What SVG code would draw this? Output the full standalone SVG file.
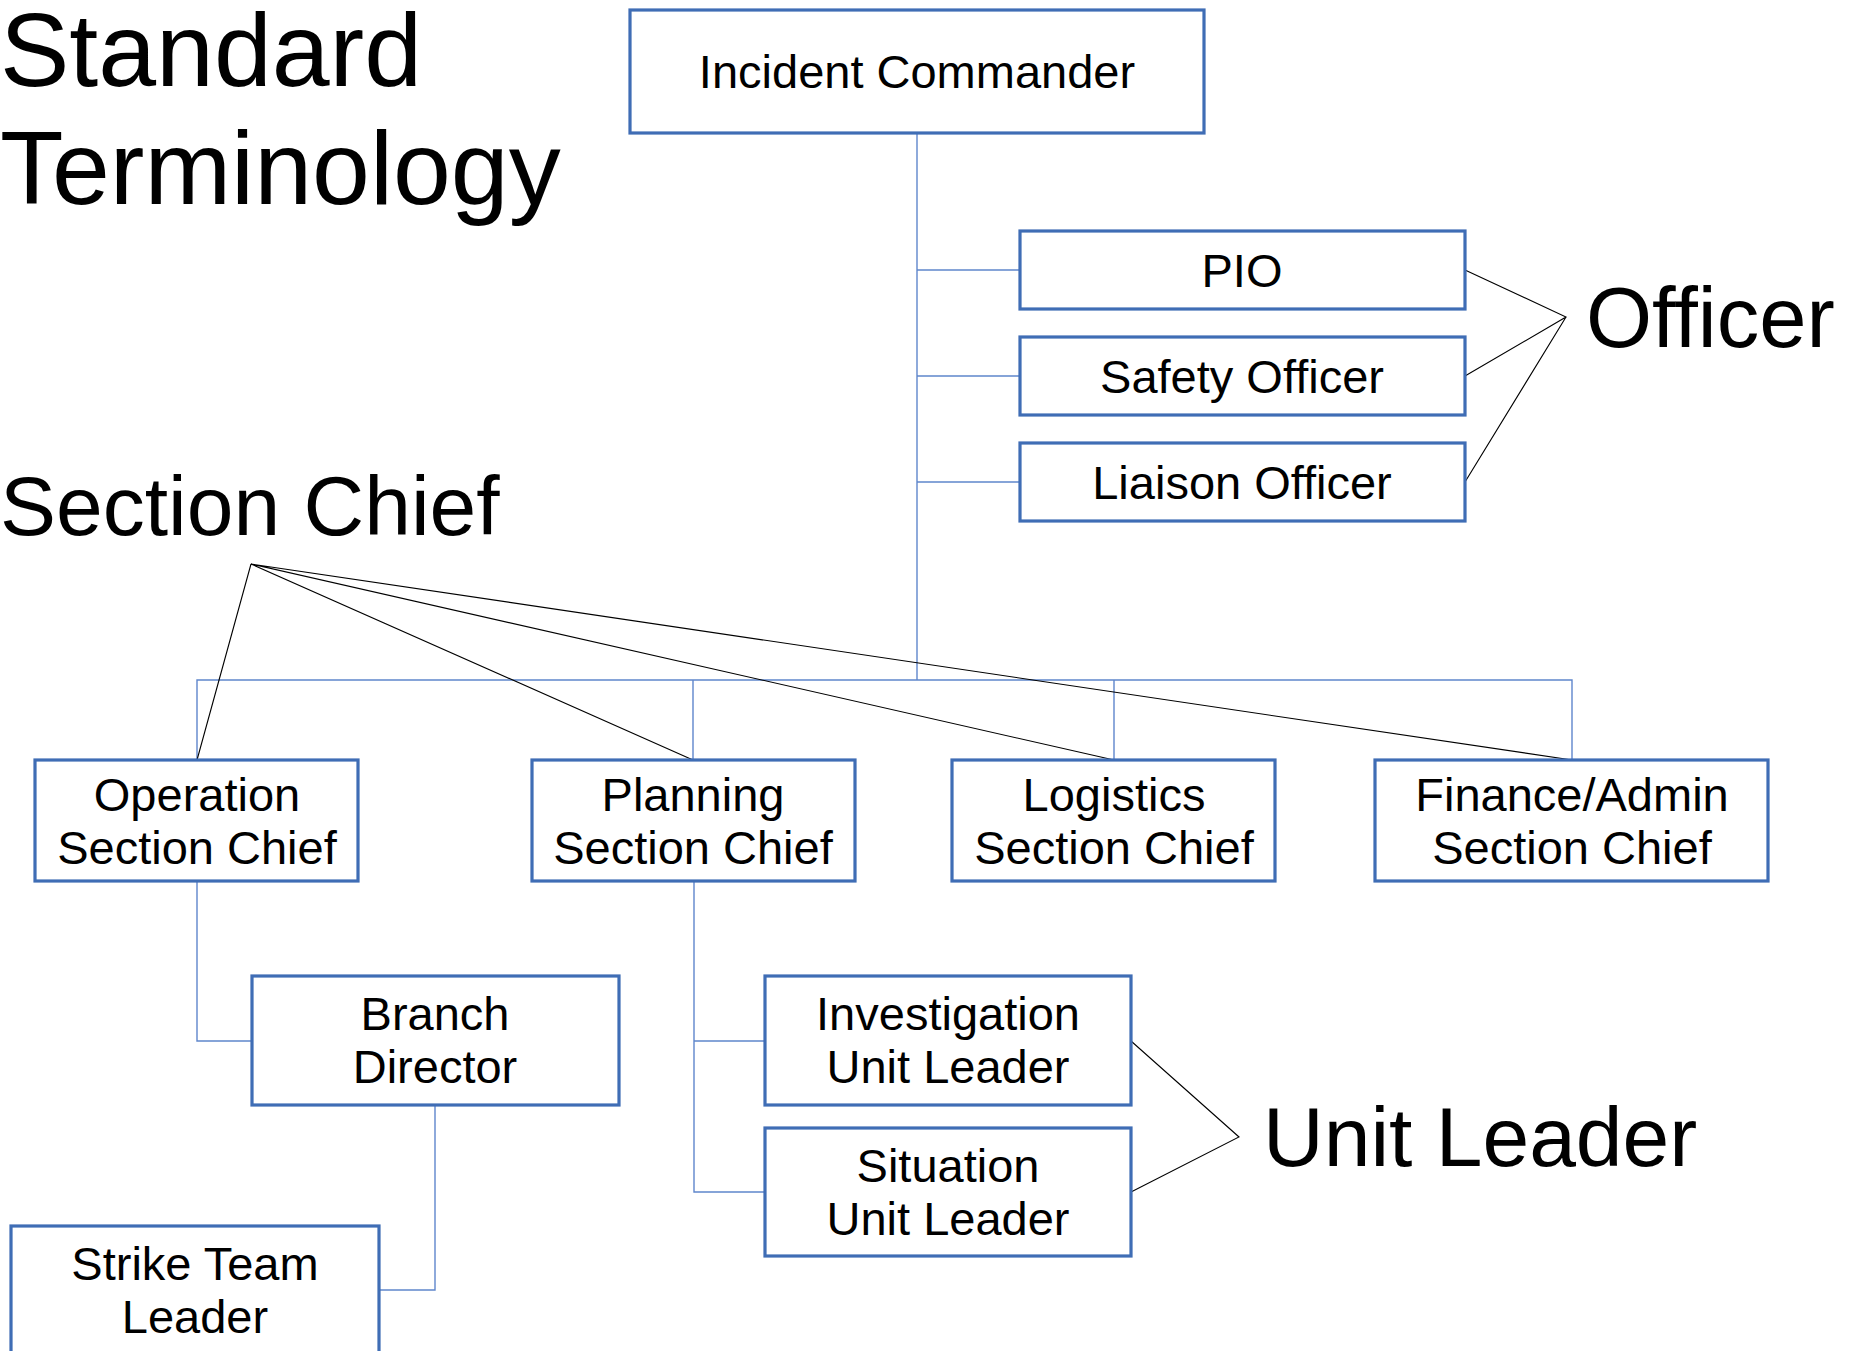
<svg xmlns="http://www.w3.org/2000/svg" width="1857" height="1351" viewBox="0 0 1857 1351">
  <style>
    .box rect { fill: #ffffff; stroke: #3F6DB5; stroke-width: 3.2; }
    .box text { font-family: "Liberation Sans", Arial, sans-serif; font-size: 47px; fill: #000000; text-anchor: middle; }
    .label { font-family: "Liberation Sans", Arial, sans-serif; fill: #000000; }
    .conn { fill: none; stroke: #5F86CC; stroke-width: 1.4; }
    .ptr { fill: none; stroke: #000000; stroke-width: 1.1; }
  </style>
  <rect width="1857" height="1351" fill="#ffffff"/>

  <!-- free-standing labels -->
  <g id="labels">
    <text class="label" x="0" y="86" font-size="104">Standard</text>
    <text class="label" x="0" y="204" font-size="104">Terminology</text>
    <text class="label" x="0" y="535" font-size="84">Section Chief</text>
    <text class="label" x="1586" y="347" font-size="85">Officer</text>
    <text class="label" x="1263" y="1166" font-size="84">Unit Leader</text>
  </g>

  <!-- org chart connectors -->
  <g id="connectors">
    <path class="conn" d="M917 133 V680"/>
    <path class="conn" d="M917 270 H1020 M917 376 H1020 M917 482 H1020"/>
    <path class="conn" d="M197 760 V680 H1572 V760 M693 680 V760 M1114 680 V760"/>
    <path class="conn" d="M197 881 V1041 H252"/>
    <path class="conn" d="M435 1105 V1290 H379"/>
    <path class="conn" d="M694 881 V1192 H765 M694 1041 H765"/>
    <!-- terminology pointers -->
    <path class="ptr" d="M1465 270 L1566 317 L1465 376 M1566 317 L1465 482"/>
    <path class="ptr" d="M251 564 L197 760 M251 564 L693 760 M251 564 L1114 760 M251 564 L1572 760"/>
    <path class="ptr" d="M1131 1041 L1239 1137 L1131 1192"/>
  </g>

  <g id="incident-commander" class="box">
    <rect x="630" y="10" width="574" height="123"/>
    <text x="917" y="88">Incident Commander</text>
  </g>
  <g id="pio" class="box">
    <rect x="1020" y="231" width="445" height="78"/>
    <text x="1242" y="287">PIO</text>
  </g>
  <g id="safety-officer" class="box">
    <rect x="1020" y="337" width="445" height="78"/>
    <text x="1242" y="393">Safety Officer</text>
  </g>
  <g id="liaison-officer" class="box">
    <rect x="1020" y="443" width="445" height="78"/>
    <text x="1242" y="499">Liaison Officer</text>
  </g>

  <g id="operation-section-chief" class="box">
    <rect x="35" y="760" width="323" height="121"/>
    <text x="197" y="811">Operation</text>
    <text x="197" y="864">Section Chief</text>
  </g>
  <g id="planning-section-chief" class="box">
    <rect x="532" y="760" width="323" height="121"/>
    <text x="693" y="811">Planning</text>
    <text x="693" y="864">Section Chief</text>
  </g>
  <g id="logistics-section-chief" class="box">
    <rect x="952" y="760" width="323" height="121"/>
    <text x="1114" y="811">Logistics</text>
    <text x="1114" y="864">Section Chief</text>
  </g>
  <g id="finance-admin-section-chief" class="box">
    <rect x="1375" y="760" width="393" height="121"/>
    <text x="1572" y="811">Finance/Admin</text>
    <text x="1572" y="864">Section Chief</text>
  </g>

  <g id="branch-director" class="box">
    <rect x="252" y="976" width="367" height="129"/>
    <text x="435" y="1030">Branch</text>
    <text x="435" y="1083">Director</text>
  </g>
  <g id="strike-team-leader" class="box">
    <rect x="11" y="1226" width="368" height="129"/>
    <text x="195" y="1280">Strike Team</text>
    <text x="195" y="1333">Leader</text>
  </g>

  <g id="investigation-unit-leader" class="box">
    <rect x="765" y="976" width="366" height="129"/>
    <text x="948" y="1030">Investigation</text>
    <text x="948" y="1083">Unit Leader</text>
  </g>
  <g id="situation-unit-leader" class="box">
    <rect x="765" y="1128" width="366" height="128"/>
    <text x="948" y="1182">Situation</text>
    <text x="948" y="1235">Unit Leader</text>
  </g>
</svg>
